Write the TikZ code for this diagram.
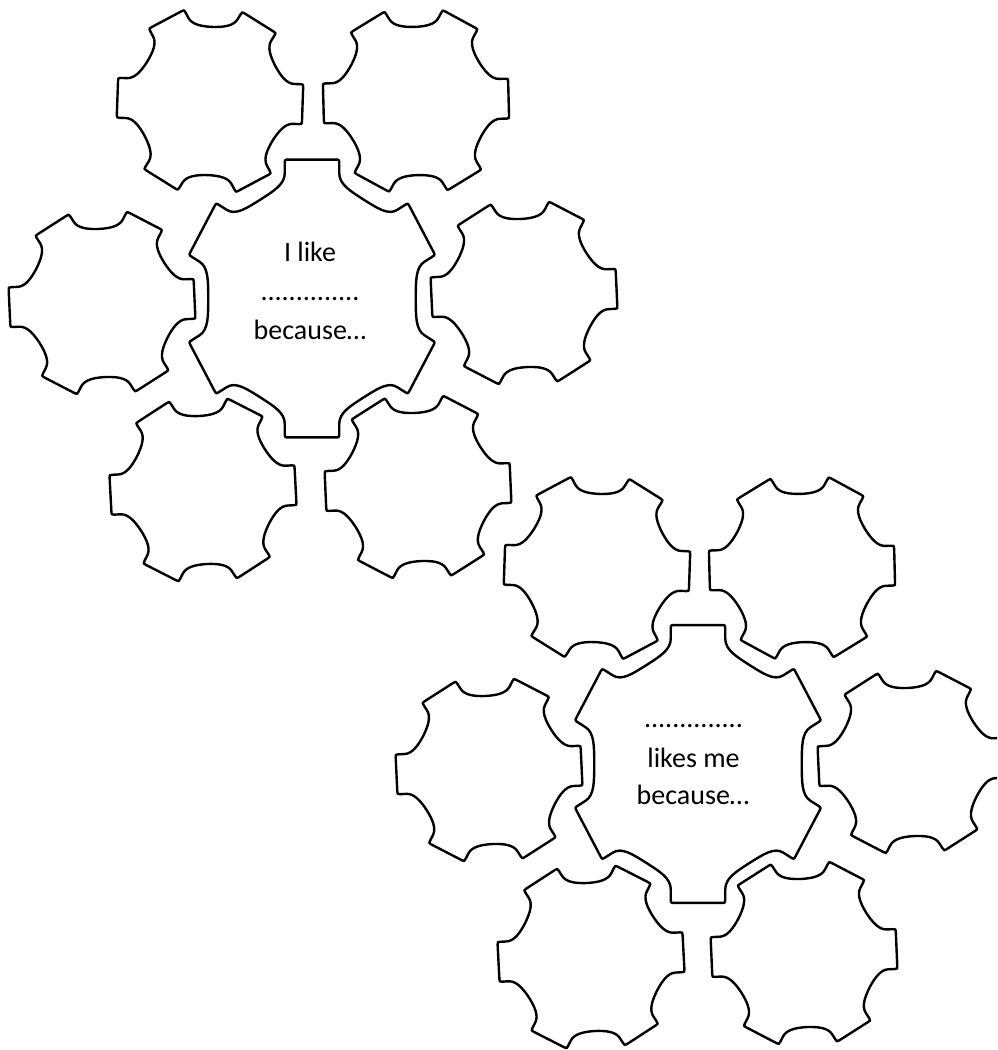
\documentclass[tikz,border=0pt]{standalone}
\usepackage{fontspec}
\setmainfont{Carlito}
\tikzset{
  gearline/.style={draw=black, line width=2.4pt, line join=round},
  txt/.style={inner sep=0pt, anchor=base, font=\fontsize{28}{34}\selectfont}
}
% #1 name, #2 x, #3 y, #4 R, #5 xscale factor, #6 rotation, #7 tooth offset, #8 notch ratio
\newcommand{\drawgear}[8]{%
  \coordinate (#1) at (#2,#3);
  \begin{scope}[shift={(#1)}, rotate=#6, xscale=#4*#5, yscale=#4]
    \draw[gearline] ({#7-10.46}:0.9915)
    \foreach \k [evaluate=\k as \t using 60*\k+#7] in {0,...,5} {
      -- ({\t+10.46}:0.9915) .. controls ({\t+12.15}:0.9974) .. ({\t+12.53}:0.9681)
      -- ({\t+13.42}:0.9047) .. controls ({\t+14.71}:0.8271) and ({\t+21.53}:{#8+0.01}) .. ({\t+30}:#8)
      .. controls ({\t+38.47}:{#8+0.01}) and ({\t+45.29}:0.8271) .. ({\t+46.58}:0.9047)
      -- ({\t+47.47}:0.9681) .. controls ({\t+47.85}:0.9974) .. ({\t+49.54}:0.9915)
    } -- cycle;
  \end{scope}}
\begin{document}
\begin{tikzpicture}[x=1pt,y=-1pt]
\useasboundingbox (0,0) rectangle (997,1050);
\clip (0,0) rectangle (997,1050);
% cluster 1
\drawgear{c1}{312}{298.5}{142.5}{0.91}{0}{30}{0.80}
\drawgear{c1tl}{210}{101}{95}{1}{-2}{0}{0.78}
\drawgear{c1tr}{416}{101}{95}{1}{1.5}{0}{0.78}
\drawgear{c1l}{102}{303}{95}{1}{2.6}{0}{0.78}
\drawgear{c1r}{524}{293}{95}{1}{2.6}{0}{0.78}
\drawgear{c1bl}{203}{490}{95}{1}{3}{0}{0.78}
\drawgear{c1br}{418}{487}{95}{1}{2.5}{0}{0.78}
% cluster 2
\drawgear{c2}{698}{764}{142.5}{0.91}{0}{30}{0.80}
\drawgear{c2tl}{597}{568}{95}{1}{-2}{0}{0.78}
\drawgear{c2tr}{802}{568}{95}{1}{1.5}{0}{0.78}
\drawgear{c2l}{489}{770}{95}{1}{2.7}{0}{0.78}
\drawgear{c2r}{911}{762}{95}{1}{2.6}{0}{0.78}
\drawgear{c2bl}{591}{957}{95}{1}{3}{0}{0.78}
\drawgear{c2br}{804}{953}{95}{1}{2.5}{0}{0.78}
% texts
\node[txt] (a1) at (310,261) {I like};
\node[txt] (a2) at (310,300) {..............};
\node[txt] (a3) at (310,339) {because…};
\node[txt] (b1) at (693.5,727) {..............};
\node[txt] (b2) at (693.5,767) {likes me};
\node[txt] (b3) at (693,804) {because…};
\end{tikzpicture}
\end{document}
